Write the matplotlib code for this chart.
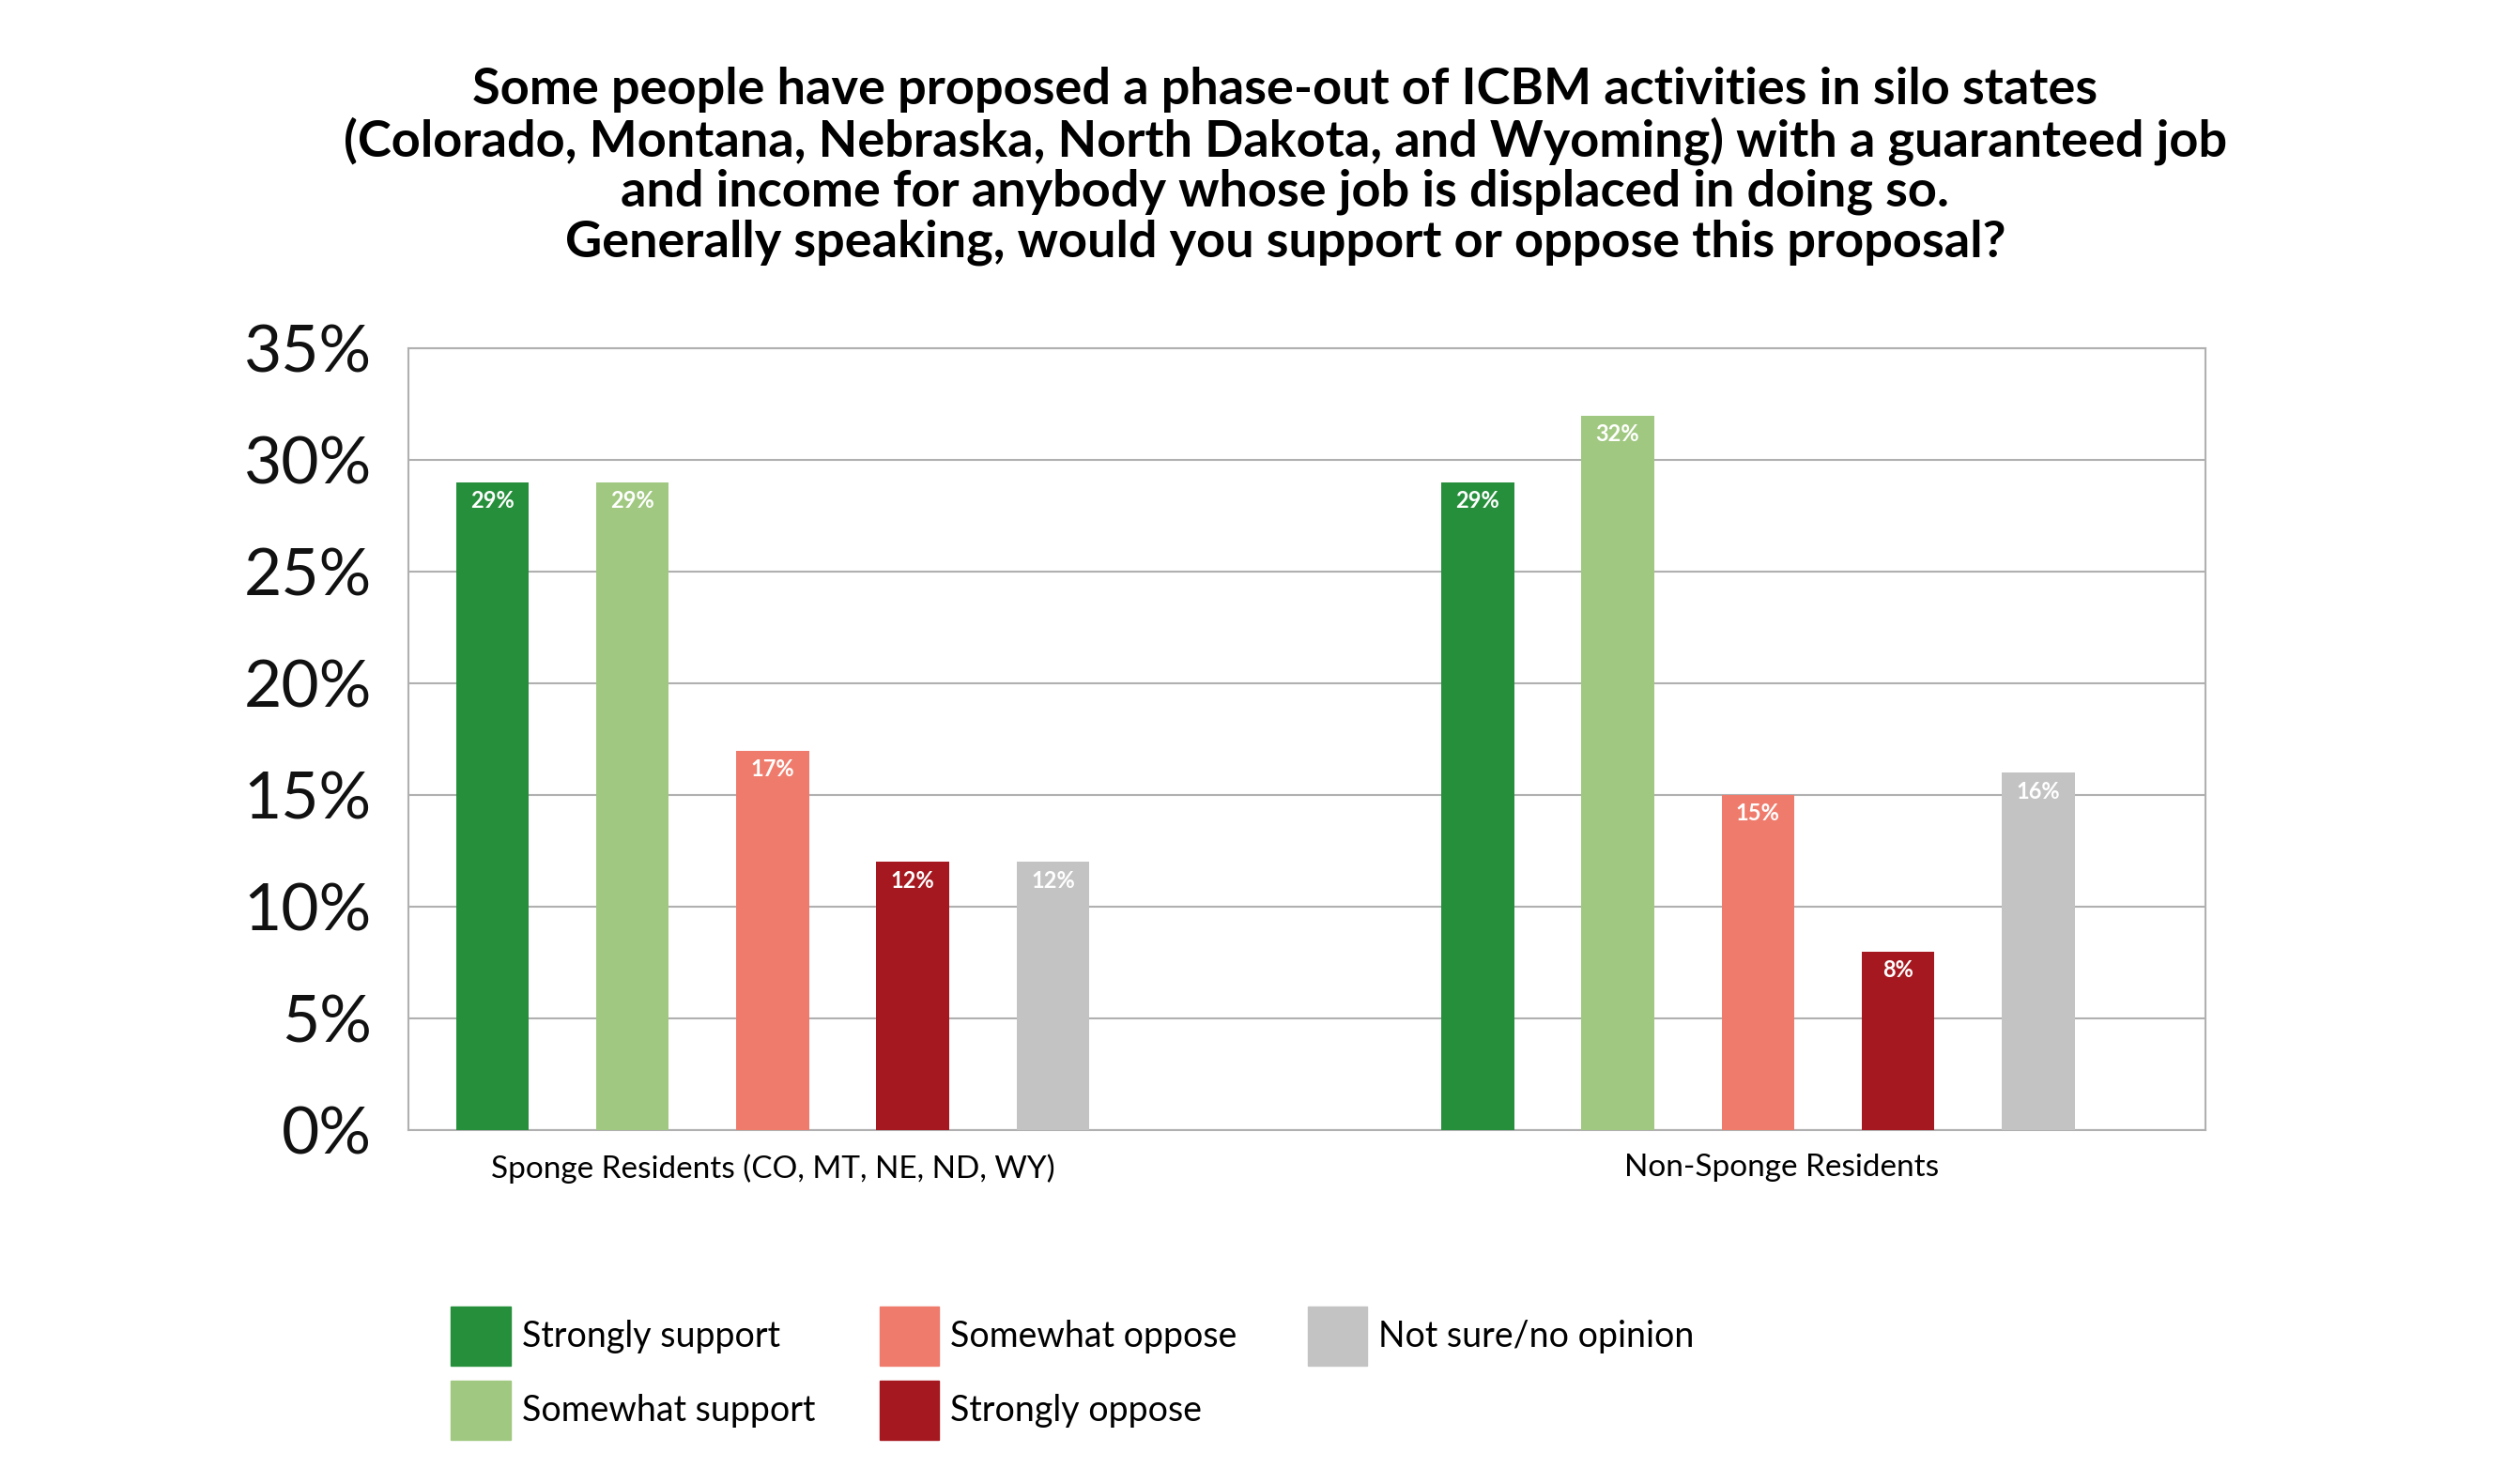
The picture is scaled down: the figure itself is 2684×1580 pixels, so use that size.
import matplotlib.pyplot as plt
from matplotlib.patches import Rectangle

plt.rcParams['font.family'] = ['Lato', 'DejaVu Sans']

groups = ['Sponge Residents (CO, MT, NE, ND, WY)', 'Non-Sponge Residents']
series = ['Strongly support', 'Somewhat support', 'Somewhat oppose', 'Strongly oppose', 'Not sure/no opinion']
values = {
    'Strongly support': [29, 29],
    'Somewhat support': [29, 32],
    'Somewhat oppose': [17, 15],
    'Strongly oppose': [12, 8],
    'Not sure/no opinion': [12, 16],
}
colors = ['#268f3c', '#a0c880', '#ef7b6c', '#a5181f', '#c3c3c3']

title = ('Some people have proposed a phase-out of ICBM activities in silo states\n'
         '(Colorado, Montana, Nebraska, North Dakota, and Wyoming) with a guaranteed job\n'
         'and income for anybody whose job is displaced in doing so.\n'
         'Generally speaking, would you support or oppose this proposal?')

fig = plt.figure(figsize=(26.84, 15.8), dpi=100)
ax = fig.add_axes([0.162, 0.238, 0.713, 0.527])

starts = [0.6, 7.63]
w = 0.52
for g, s0 in enumerate(starts):
    for i, name in enumerate(series):
        v = values[name][g]
        x = s0 + i
        ax.bar(x, v, width=w, color=colors[i], zorder=3)
        ax.text(x, v - 0.35, f'{v}%', ha='center', va='top', color='white',
                fontsize=17, fontweight='bold', zorder=4)

ax.set_xlim(0, 12.82)
ax.set_ylim(0, 35)
ax.set_yticks(range(0, 36, 5))
ax.set_yticklabels([f'{t}%' for t in range(0, 36, 5)], fontsize=50, color='#111111')
ax.yaxis.grid(True, color='#b0b0b0', linewidth=1.5, zorder=0)
ax.tick_params(axis='y', length=0, pad=28)
ax.tick_params(axis='x', length=0, pad=18)
ax.set_xticks([2.6, 9.8])
ax.set_xticklabels(groups, fontsize=24)
for sp in ax.spines.values():
    sp.set_color('#b0b0b0')
    sp.set_linewidth(1.5)

fig.text(0.51, 0.955, title, ha='center', va='top', fontsize=39, fontweight='bold',
         linespacing=1.1)

# legend
order = [(0, 0), (0, 1), (1, 0), (1, 1), (2, 0)]
col_x = [0.179, 0.349, 0.519]
row_y = [0.079, 0.029]
for i, name in enumerate(series):
    c, r = order[i]
    fig.patches.append(Rectangle((col_x[c], row_y[r]), 0.0235, 0.04,
                                 color=colors[i], transform=fig.transFigure))
    fig.text(col_x[c] + 0.028, row_y[r] + 0.02, name, fontsize=27, va='center', ha='left')

fig.savefig('out.png', dpi=100)
